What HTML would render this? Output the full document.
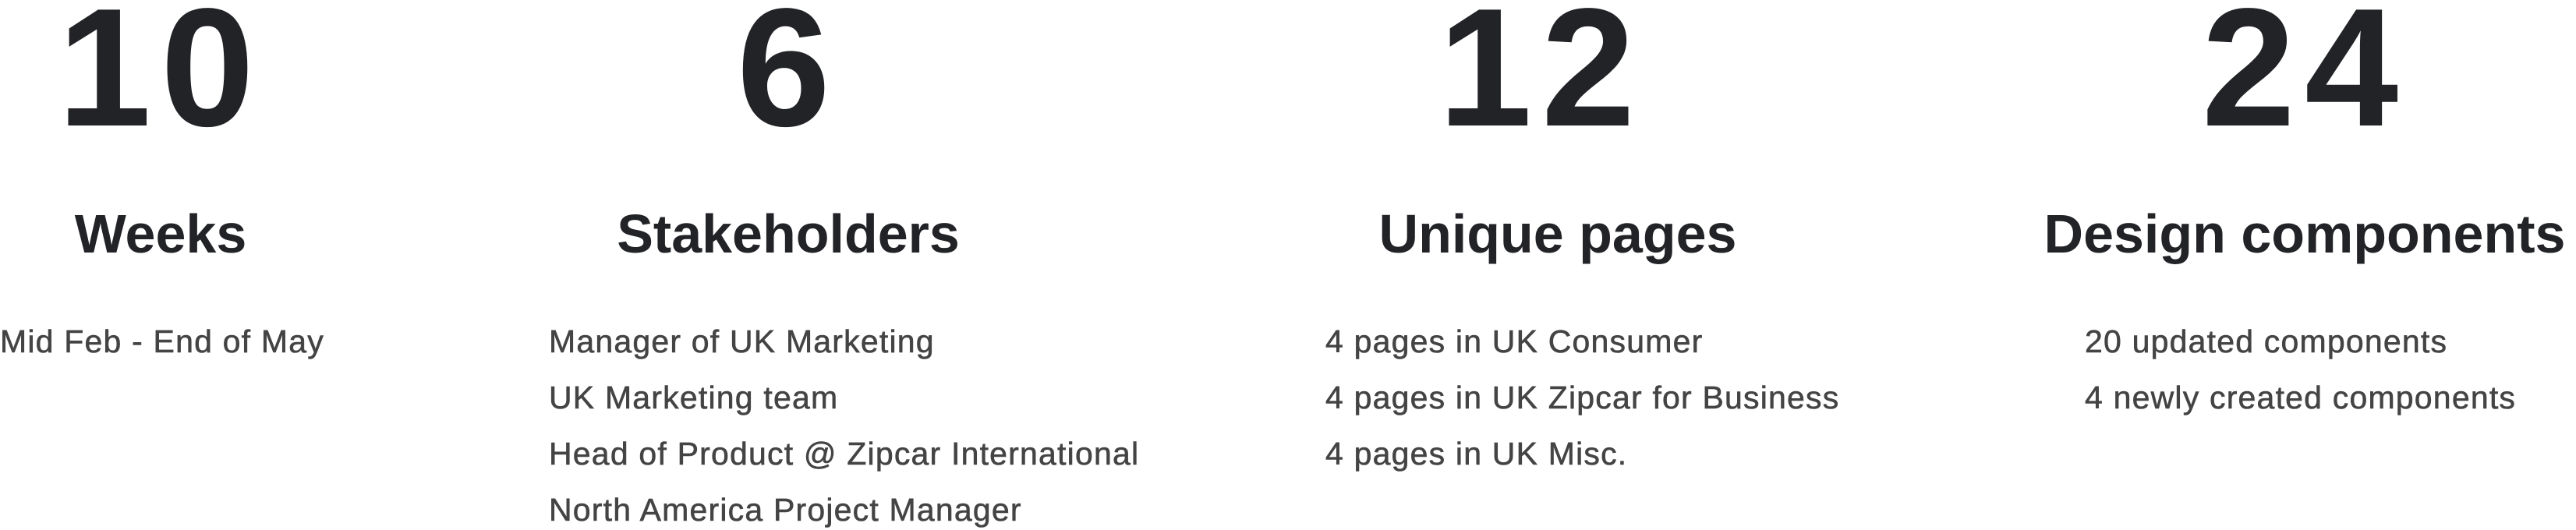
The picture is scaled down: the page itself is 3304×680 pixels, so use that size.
<!DOCTYPE html>
<html><head><meta charset="utf-8"><style>
html,body{margin:0;padding:0;background:#fff;width:3304px;height:680px;overflow:hidden}
body{position:relative;font-family:"Liberation Sans",sans-serif}
.num{position:absolute;font-weight:bold;color:#222326;font-size:216px;line-height:1;letter-spacing:12px;transform:translateX(-50%);white-space:nowrap;top:-22px}
.title{position:absolute;font-weight:bold;color:#222326;font-size:70px;line-height:1;transform:translateX(-50%);white-space:nowrap;top:265px}
.list{position:absolute;top:402px;margin:0;padding:0;list-style:none}
.list li{font-size:41px;line-height:72px;color:#444;white-space:nowrap;letter-spacing:1.2px;height:72px;-webkit-text-stroke:0.6px #444}
</style></head><body>
<div>
<div class="num" style="left:206px">10</div>
<div class="title" style="left:206px">Weeks</div>
<ul class="list" style="left:0">
<li>Mid Feb - End of May</li>
</ul></div>
<div>
<div class="num" style="left:1011px">6</div>
<div class="title" style="left:1011px">Stakeholders</div>
<ul class="list" style="left:704px">
<li>Manager of UK Marketing</li>
<li>UK Marketing team</li>
<li>Head of Product @ Zipcar International</li>
<li>North America Project Manager</li>
</ul></div>
<div>
<div class="num" style="left:1977px">12</div>
<div class="title" style="left:1998px">Unique pages</div>
<ul class="list" style="left:1700px">
<li>4 pages in UK Consumer</li>
<li>4 pages in UK Zipcar for Business</li>
<li>4 pages in UK Misc.</li>
</ul></div>
<div>
<div class="num" style="left:2956px">24</div>
<div class="title" style="left:2956px">Design components</div>
<ul class="list" style="left:2674px">
<li>20 updated components</li>
<li>4 newly created components</li>
</ul></div>
</body></html>
